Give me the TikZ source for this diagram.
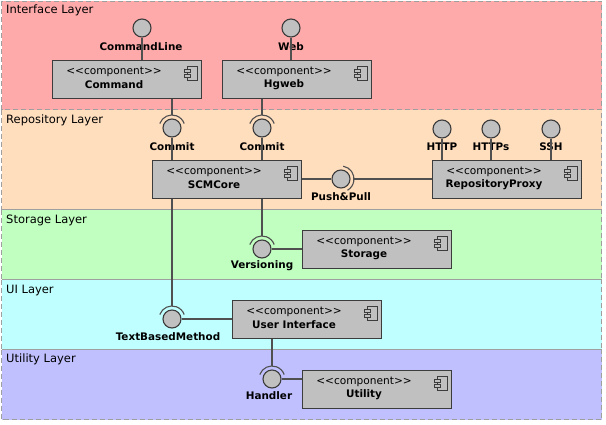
\documentclass[tikz,border=0pt]{standalone}
\usepackage{fontspec}
\setmainfont{DejaVu Sans}
\usetikzlibrary{calc}
\definecolor{lyInterface}{RGB}{255,170,170}
\definecolor{lyRepo}{RGB}{255,222,190}
\definecolor{lyStorage}{RGB}{192,255,192}
\definecolor{lyUI}{RGB}{192,255,255}
\definecolor{lyUtil}{RGB}{192,192,255}
\definecolor{compfill}{RGB}{192,192,192}
\definecolor{compline}{RGB}{60,60,60}
\definecolor{conline}{RGB}{80,80,80}
\tikzset{
  layerbox/.style={draw=gray!75, dash pattern=on 5pt off 3pt, line width=0.8pt},
  layertitle/.style={anchor=west, inner sep=0pt, font=\fontsize{11.5}{12}\selectfont},
  comp/.style={draw=compline, fill=compfill, line width=1.1pt, minimum width=149pt, minimum height=38pt, anchor=north west, inner sep=0pt},
  stereo/.style={inner sep=0pt, font=\fontsize{10.6}{11}\selectfont},
  cname/.style={inner sep=0pt, font=\fontsize{10.4}{11}\selectfont\bfseries},
  iface/.style={circle, draw=compline, fill=compfill, line width=1.1pt, minimum size=18pt, inner sep=0pt},
  ilabel/.style={inner sep=0pt, font=\fontsize{10.4}{11}\selectfont\bfseries},
  conn/.style={draw=conline, line width=1.2pt},
  socket/.style={draw=conline, line width=1.1pt},
}
\newcommand{\compicon}[1]{%
  \draw[compline, line width=0.8pt, fill=compfill] ($(#1.north east)+(-15,6)$) rectangle ($(#1.north east)+(-5,20)$);
  \draw[compline, line width=0.8pt, fill=compfill] ($(#1.north east)+(-18,9)$) rectangle ($(#1.north east)+(-12,12)$);
  \draw[compline, line width=0.8pt, fill=compfill] ($(#1.north east)+(-18,14)$) rectangle ($(#1.north east)+(-12,17)$);
}
\newcommand{\comptext}[2]{%
  \node[stereo] (#1s) at ($(#1.center)+(-13,-8)$) {<{}<component>{}>};
  \node[cname] (#1n) at ($(#1.center)+(-13,5)$) {#2};
  \compicon{#1}
}
\begin{document}
\begin{tikzpicture}[x=1pt,y=-1pt]
\useasboundingbox (0,0) rectangle (606,424);
% layers
\fill[lyInterface] (1.5,1) rectangle (601.5,109.5);
\fill[lyRepo] (1.5,109.5) rectangle (601.5,209.5);
\fill[lyStorage] (1.5,209.5) rectangle (601.5,279.5);
\fill[lyUI] (1.5,279.5) rectangle (601.5,349.5);
\fill[lyUtil] (1.5,349.5) rectangle (601.5,419.5);
\draw[layerbox] (1.5,1) rectangle (601.5,109.5);
\draw[layerbox] (1.5,109.5) rectangle (601.5,209.5);
\draw[layerbox] (1.5,209.5) rectangle (601.5,279.5);
\draw[layerbox] (1.5,279.5) rectangle (601.5,349.5);
\draw[layerbox] (1.5,349.5) rectangle (601.5,419.5);
\node[layertitle] (tInterface) at (6,10) {Interface Layer};
\node[layertitle] (tRepo) at (6,120) {Repository Layer};
\node[layertitle] (tStorage) at (6,220) {Storage Layer};
\node[layertitle] (tUI) at (6,290) {UI Layer};
\node[layertitle] (tUtil) at (6,359) {Utility Layer};

% components
\node[comp] (cmd) at (52,60) {};
\comptext{cmd}{Command}
\node[comp] (hg) at (222,60) {};
\comptext{hg}{Hgweb}
\node[comp] (core) at (152,160) {};
\comptext{core}{SCMCore}
\node[comp] (proxy) at (432,160) {};
\comptext{proxy}{RepositoryProxy}
\node[comp] (stor) at (302,230) {};
\comptext{stor}{Storage}
\node[comp] (ui) at (232,300) {};
\comptext{ui}{User Interface}
\node[comp] (util) at (302,370) {};
\comptext{util}{Utility}

% provided interfaces
\node[iface] (icl) at (142,28) {};
\node[ilabel] (lcl) at (141,47) {CommandLine};
\draw[conn] (icl.south) -- (icl.south |- cmd.north);
\node[iface] (iweb) at (291,28) {};
\node[ilabel] (lweb) at (291,47) {Web};
\draw[conn] (iweb.south) -- (iweb.south |- hg.north);

\node[iface] (ihttp) at (442,129) {};
\node[ilabel] (lhttp) at (442,147) {HTTP};
\draw[conn] (ihttp.south) -- (ihttp.south |- proxy.north);
\node[iface] (ihttps) at (491,129) {};
\node[ilabel] (lhttps) at (491,147) {HTTPs};
\draw[conn] (ihttps.south) -- (ihttps.south |- proxy.north);
\node[iface] (issh) at (551,129) {};
\node[ilabel] (lssh) at (551,147) {SSH};
\draw[conn] (issh.south) -- (issh.south |- proxy.north);

% Commit 1
\node[iface] (ic1) at (172,128) {};
\node[ilabel] (lc1) at (172,147) {Commit};
\draw[socket] ($(ic1.center)+(200:13)$) arc[start angle=200, end angle=340, radius=13];
\coordinate (sc1) at ($(ic1.center)+(0,-13)$);
\draw[conn] (sc1 |- cmd.south) -- (sc1);
\draw[conn] (ic1.south) -- (ic1.south |- core.north);
% Commit 2
\node[iface] (ic2) at (262,128) {};
\node[ilabel] (lc2) at (262,147) {Commit};
\draw[socket] ($(ic2.center)+(200:13)$) arc[start angle=200, end angle=340, radius=13];
\coordinate (sc2) at ($(ic2.center)+(0,-13)$);
\draw[conn] (sc2 |- hg.south) -- (sc2);
\draw[conn] (ic2.south) -- (ic2.south |- core.north);
% Push&Pull
\node[iface] (ipp) at (341,179) {};
\node[ilabel] (lpp) at (341,197) {Push\&Pull};
\draw[socket] ($(ipp.center)+(-80:13)$) arc[start angle=-80, end angle=60, radius=13];
\coordinate (spp) at ($(ipp.center)+(13,0)$);
\draw[conn] (core.east |- ipp) -- (ipp.west);
\draw[conn] (spp) -- (proxy.west |- spp);
% Versioning
\node[iface] (iver) at (262,249) {};
\node[ilabel] (lver) at (262,266) {Versioning};
\draw[socket] ($(iver.center)+(200:13)$) arc[start angle=200, end angle=340, radius=13];
\coordinate (sver) at ($(iver.center)+(0,-13)$);
\draw[conn] (sver |- core.south) -- (sver);
\draw[conn] (iver.east) -- (stor.west |- iver);
% TextBasedMethod
\node[iface] (itb) at (172,319) {};
\node[ilabel] (ltb) at (168,337) {TextBasedMethod};
\draw[socket] ($(itb.center)+(200:13)$) arc[start angle=200, end angle=340, radius=13];
\coordinate (stb) at ($(itb.center)+(0,-13)$);
\draw[conn] (stb |- core.south) -- (stb);
\draw[conn] (itb.east) -- (ui.west |- itb);
% Handler
\node[iface] (ihd) at (272,379) {};
\node[ilabel] (lhd) at (269,396) {Handler};
\draw[socket] ($(ihd.center)+(200:13)$) arc[start angle=200, end angle=340, radius=13];
\coordinate (shd) at ($(ihd.center)+(0,-13)$);
\draw[conn] (shd |- ui.south) -- (shd);
\draw[conn] (ihd.east) -- (util.west |- ihd);
\end{tikzpicture}
\end{document}
